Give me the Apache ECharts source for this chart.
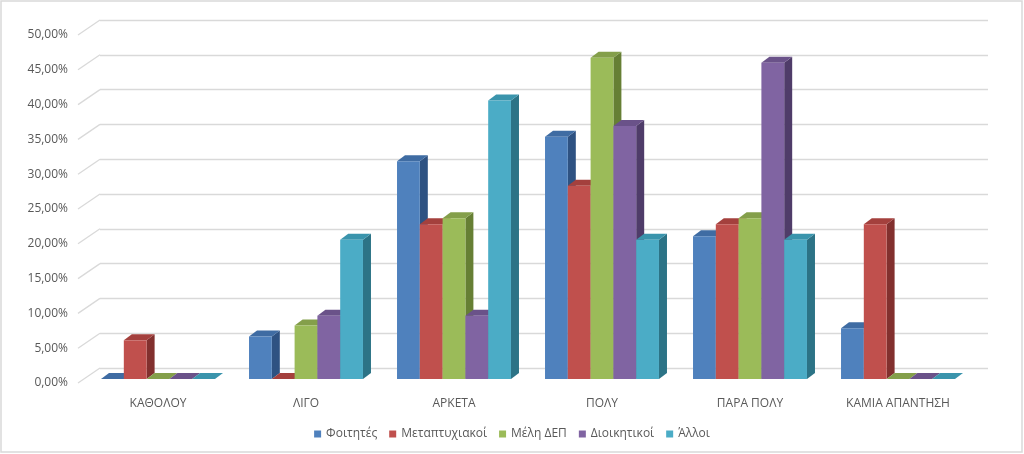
<!DOCTYPE html>
<html><head><meta charset="utf-8">
<script src="https://cdn.jsdelivr.net/npm/echarts/dist/echarts.min.js"></script>
<style>html,body{margin:0;padding:0;background:#fff}#c{width:1024px;height:454px}</style>
</head><body><div id="c"></div>
<script>
const categories = ['ΚΑΘΟΛΟΥ', 'ΛΙΓΟ', 'ΑΡΚΕΤΑ', 'ΠΟΛΥ', 'ΠΑΡΑ ΠΟΛΥ', 'ΚΑΜΙΑ ΑΠΑΝΤΗΣΗ'];
const seriesNames = ['Φοιτητές', 'Μεταπτυχιακοί', 'Μέλη ΔΕΠ', 'Διοικητικοί', 'Άλλοι'];
const foitites = [0, 6.1, 31.3, 34.8, 20.5, 7.3];
const metaptyxiakoi = [5.56, 0, 22.22, 27.78, 22.22, 22.22];
const meliDep = [0, 7.69, 23.08, 46.15, 23.08, 0];
const dioikitikoi = [0, 9.09, 9.09, 36.36, 45.45, 0];
const alloi = [0, 20, 40, 20, 20, 0];
const yTicks = [0, 5, 10, 15, 20, 25, 30, 35, 40, 45, 50];

const seriesValues = [foitites, metaptyxiakoi, meliDep, dioikitikoi, alloi];
const frontColors = ['#4F81BD', '#C0504D', '#9BBB59', '#8064A2', '#4BACC6'];
const topColors = ['#3F6CA3', '#A4403D', '#849F4A', '#6A5289', '#3A94AC'];
const sideColors = ['#2E5282', '#82302E', '#667F34', '#4F3C69', '#2C7386'];

const BAR_DX = 8, BAR_DY = -6;     // bar depth
const WALL_DX = 22, WALL_DY = -15; // floor depth
const GROUP_RATIO = 0.77;
const TXT = '#595959';
const FONT = 'Open Sans';

function barRender(si) {
  return function (params, api) {
    const ci = api.value(0), v = api.value(1);
    const base = api.coord([ci, 0]);
    const top = api.coord([ci, v]);
    const band = api.size([1, 0])[0];
    const gw = band * GROUP_RATIO;
    const bw = gw / seriesValues.length;
    const x0 = base[0] - gw / 2 + si * bw;
    const x1 = x0 + bw;
    const yb = base[1], yt = top[1];
    return {
      type: 'group',
      children: [
        { type: 'polygon', shape: { points: [[x1, yt], [x1 + BAR_DX, yt + BAR_DY], [x1 + BAR_DX, yb + BAR_DY], [x1, yb]] },
          style: { fill: sideColors[si] } },
        { type: 'polygon', shape: { points: [[x0, yt], [x0 + BAR_DX, yt + BAR_DY], [x1 + BAR_DX, yt + BAR_DY], [x1, yt]] },
          style: { fill: topColors[si] } },
        { type: 'rect', shape: { x: x0, y: yt, width: bw, height: yb - yt },
          style: { fill: frontColors[si] } }
      ]
    };
  };
}

const series = seriesNames.map((name, si) => ({
  name: name,
  type: 'custom',
  xAxisIndex: 0, yAxisIndex: 0,
  itemStyle: { color: frontColors[si] },
  encode: { x: 0, y: 1 },
  data: seriesValues[si].map((v, ci) => [ci, v]),
  renderItem: barRender(si),
  clip: false,
  z: 3
}));

series.push({
  name: 'diag',
  type: 'custom',
  xAxisIndex: 2, yAxisIndex: 2,
  silent: true,
  z: 1,
  data: yTicks.map(v => [0, v]),
  encode: { x: 0, y: 1 },
  renderItem: function (params, api) {
    const p = api.coord([0, api.value(1)]);
    return { type: 'line', shape: { x1: p[0], y1: p[1], x2: p[0] + WALL_DX, y2: p[1] + WALL_DY },
      style: { stroke: '#D9D9D9', lineWidth: 1.3 } };
  },
  clip: false
});

const chart = echarts.init(document.getElementById('c'), null, { renderer: 'canvas' });
chart.setOption({
  animation: false,
  backgroundColor: '#fff',
  textStyle: { fontFamily: FONT },
  graphic: [{ type: 'rect', silent: true, shape: { x: 1, y: 1, width: 1021, height: 451 },
    style: { fill: 'none', stroke: '#D9D9D9', lineWidth: 1.5 } }],
  legend: {
    data: seriesNames,
    bottom: 9,
    left: 'center',
    icon: 'rect',
    itemWidth: 7, itemHeight: 7, itemGap: 12,
    textStyle: { color: TXT, fontSize: 12, fontFamily: FONT }
  },
  grid: [
    { left: 84, top: 31, width: 888, height: 348 },   // bar plane
    { left: 100, top: 20, width: 888, height: 348 },  // back wall
    { left: 78, top: 35, width: 888, height: 348 }    // front edge
  ],
  xAxis: [
    { type: 'category', gridIndex: 0, data: categories,
      axisLine: { show: false }, axisTick: { show: false }, splitLine: { show: false },
      axisLabel: { color: TXT, fontSize: 12, fontFamily: FONT, margin: 19 } },
    { type: 'category', gridIndex: 1, data: categories, show: false },
    { type: 'value', gridIndex: 2, min: 0, max: 1, show: false }
  ],
  yAxis: [
    { type: 'value', gridIndex: 0, min: 0, max: 50, interval: 5, show: false },
    { type: 'value', gridIndex: 1, min: 0, max: 50, interval: 5,
      axisLine: { show: false }, axisTick: { show: false }, axisLabel: { show: false },
      splitLine: { show: true, lineStyle: { color: '#D9D9D9', width: 1.3 } } },
    { type: 'value', gridIndex: 2, min: 0, max: 50, interval: 5,
      axisLine: { show: false }, axisTick: { show: false }, splitLine: { show: false },
      axisLabel: { color: TXT, fontSize: 12, fontFamily: FONT, margin: 10, padding: [5, 0, 0, 0],
        formatter: v => v.toFixed(2).replace('.', ',') + '%' } }
  ],
  series: series
});
</script>
</body></html>
